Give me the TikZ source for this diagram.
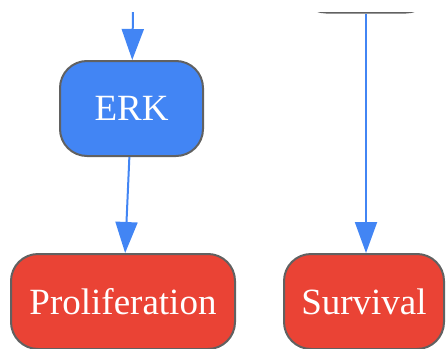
\documentclass[tikz,border=0pt]{standalone}
\usepackage{fontspec}
\setmainfont{Liberation Serif}
\usetikzlibrary{arrows.meta}
\definecolor{gblue}{HTML}{4285F4}
\definecolor{gred}{HTML}{EA4335}
\definecolor{gborder}{HTML}{616161}
\tikzset{
  box/.style={draw=gborder, line width=2pt, rounded corners=27pt, minimum height=95pt,
    text=white, font=\fontsize{37}{41}\selectfont, inner sep=0pt},
  arr/.style={gblue, line width=2pt, -{Triangle[length=31pt,width=22pt]}}
}
\begin{document}
\begin{tikzpicture}[x=1pt,y=-1pt]
\useasboundingbox (0,0) rectangle (447,348);
\clip (0,12) rectangle (447,348);

\node[box, fill=gblue, minimum width=143pt] (erk) at (131.5,108.5) {ERK};
\node[box, fill=gred, minimum width=224pt] (prol) at (123,301.5) {Proliferation};
\node[box, fill=gred, minimum width=160pt] (surv) at (364,301.5) {Survival};
\node[box, fill=white, minimum width=134pt] (up) at (366,-35) {};
\coordinate (erkin) at (133,12);

\draw[arr] (erkin) -- (erk);
\draw[arr] (erk) -- (prol);
\draw[arr] (up.south) -- (up.south |- surv.north);
\end{tikzpicture}
\end{document}
